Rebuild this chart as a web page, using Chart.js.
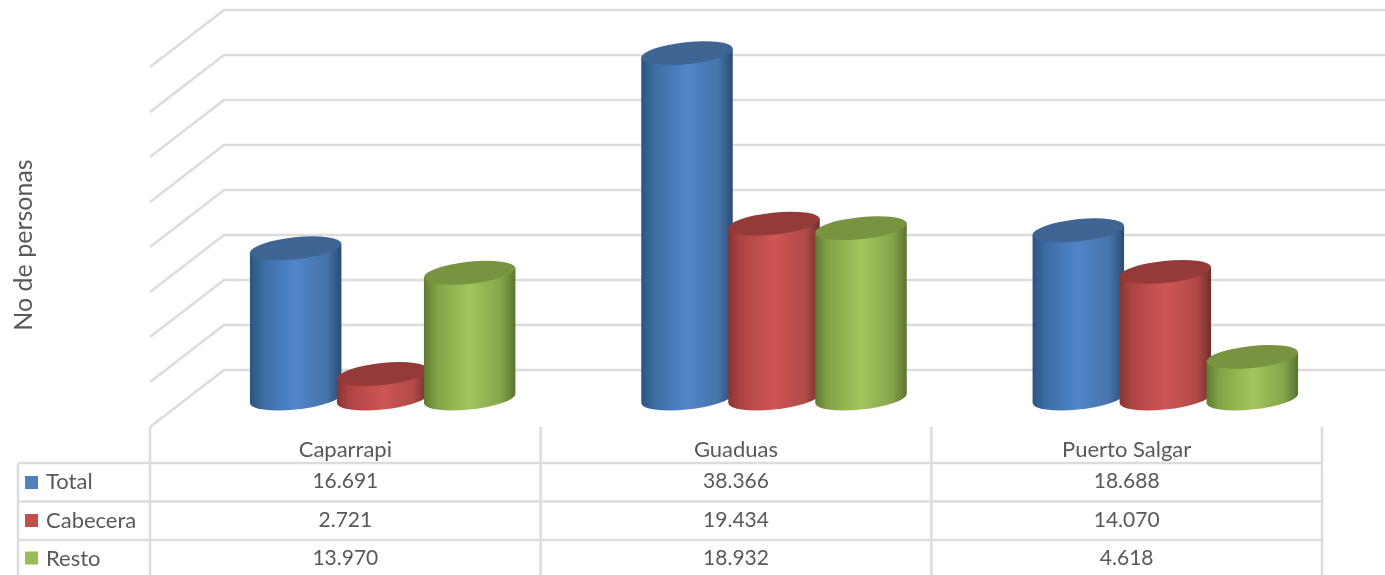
<!DOCTYPE html>
<html>
<head>
<meta charset="utf-8">
<title>No de personas</title>
<script src="https://cdn.jsdelivr.net/npm/chart.js@4"></script>
<style>
  html, body { margin: 0; padding: 0; background: #ffffff; overflow: hidden; }
  canvas { display: block; }
</style>
</head>
<body>
<canvas id="chart" width="1385" height="575"></canvas>
<script>
const municipios = ["Caparrapi", "Guaduas", "Puerto Salgar"];
const total = [16691, 38366, 18688];
const cabecera = [2721, 19434, 14070];
const resto = [13970, 18932, 4618];
const seriesNames = ["Total", "Cabecera", "Resto"];
const seriesValues = [total, cabecera, resto];
const axisTitle = "No de personas";

const swatchColors = ["#4f81bd", "#c0504d", "#9bbb59"];
const topColors = ["#3e6593", "#943a38", "#789440"];
const sideStops = [
  ["#2c5480", "#3d6ca3", "#5086c9", "#4673a9", "#2b4c73"],
  ["#873634", "#ad4543", "#ce5653", "#b04a48", "#722e2c"],
  ["#5f7b32", "#83a246", "#a3c55d", "#86a54a", "#5a7430"],
];

const gridColor = "#dcdcdc";
const textColor = "#595959";

// the 3D look: how far the back wall and the floor edge sit from the bar plane
const depthX = 37;
const backY = -28.5;
const frontY = 28.5;
const tilt = (-6 * Math.PI) / 180;
const capHeight = 11;
const tableRight = 1322;

function formatNumber(value) {
  return String(value).replace(/\B(?=(\d{3})+$)/g, ".");
}

function line(ctx, x1, y1, x2, y2) {
  ctx.beginPath();
  ctx.moveTo(x1, y1);
  ctx.lineTo(x2, y2);
  ctx.stroke();
}

function drawCylinder(ctx, bar, index) {
  const a = bar.width / 2;
  const t0 = Math.atan((-capHeight / a) * Math.tan(tilt));
  const xr = a * Math.cos(t0) * Math.cos(tilt) - capHeight * Math.sin(t0) * Math.sin(tilt);
  const yr = a * Math.cos(t0) * Math.sin(tilt) + capHeight * Math.sin(t0) * Math.cos(tilt);

  const gradient = ctx.createLinearGradient(bar.x - xr, 0, bar.x + xr, 0);
  [0, 0.14, 0.5, 0.84, 1].forEach((stop, i) => gradient.addColorStop(stop, sideStops[index][i]));

  ctx.beginPath();
  ctx.moveTo(bar.x - xr, bar.y - yr);
  ctx.lineTo(bar.x - xr, bar.base - yr);
  ctx.ellipse(bar.x, bar.base, a, capHeight, tilt, t0 + Math.PI, t0, true);
  ctx.lineTo(bar.x + xr, bar.y + yr);
  ctx.closePath();
  ctx.fillStyle = gradient;
  ctx.fill();

  ctx.beginPath();
  ctx.ellipse(bar.x, bar.y, a, capHeight, tilt, 0, Math.PI * 2);
  ctx.fillStyle = topColors[index];
  ctx.fill();
}

const scene3d = {
  id: "scene3d",
  beforeDatasetsDraw(chart) {
    const ctx = chart.ctx;
    const y = chart.scales.y;
    const x = chart.scales.x;
    ctx.save();
    ctx.strokeStyle = gridColor;
    ctx.lineWidth = 2.5;
    y.ticks.forEach((tick) => {
      const py = y.getPixelForValue(tick.value);
      ctx.beginPath();
      ctx.moveTo(x.left - depthX, py + frontY);
      ctx.lineTo(x.left + depthX, py + backY);
      ctx.lineTo(chart.width, py + backY);
      ctx.stroke();
    });
    ctx.restore();
  },
  beforeDatasetDraw() {
    return false; // default flat bars are replaced by the cylinders below
  },
  afterDatasetsDraw(chart) {
    const ctx = chart.ctx;
    ctx.save();
    municipios.forEach((name, col) => {
      seriesNames.forEach((serie, index) => {
        drawCylinder(ctx, chart.getDatasetMeta(index).data[col], index);
      });
    });
    ctx.restore();
  },
  afterDraw(chart) {
    const ctx = chart.ctx;
    const left = chart.scales.x.left - depthX;
    const colWidth = (tableRight - left) / municipios.length;
    const rowLines = [463, 501.5, 540];
    const rowText = [481.5, 520.5, 558.5];
    const swatchY = [476, 514, 551.5];
    const tableTop = 427;

    ctx.save();
    ctx.strokeStyle = gridColor;
    ctx.lineWidth = 2.5;
    for (let i = 0; i <= municipios.length; i++) {
      line(ctx, left + i * colWidth, tableTop, left + i * colWidth, chart.height);
    }
    rowLines.forEach((py) => line(ctx, 18, py, tableRight, py));
    line(ctx, 18, rowLines[0], 18, chart.height);

    ctx.fillStyle = textColor;
    ctx.textBaseline = "middle";
    ctx.textAlign = "center";
    municipios.forEach((name, col) => {
      const cx = left + (col + 0.5) * colWidth;
      ctx.font = "22px Lato";
      ctx.fillText(name, cx, 449.5);
      ctx.font = "21px Lato";
      seriesValues.forEach((values, row) => {
        ctx.fillText(formatNumber(values[col]), cx, rowText[row]);
      });
    });

    ctx.textAlign = "left";
    ctx.font = "22px Lato";
    seriesNames.forEach((name, row) => {
      ctx.fillStyle = swatchColors[row];
      ctx.fillRect(25, swatchY[row], 13, 13);
      ctx.fillStyle = textColor;
      ctx.fillText(name, 46, rowText[row]);
    });

    ctx.translate(24, 245);
    ctx.rotate(-Math.PI / 2);
    ctx.textAlign = "center";
    ctx.font = "25px Lato";
    ctx.fillText(axisTitle, 0, 0);
    ctx.restore();
  },
};

new Chart(document.getElementById("chart").getContext("2d"), {
  type: "bar",
  data: {
    labels: municipios,
    datasets: seriesNames.map((name, i) => ({
      label: name,
      data: seriesValues[i],
      backgroundColor: swatchColors[i],
    })),
  },
  options: {
    responsive: false,
    animation: false,
    categoryPercentage: 0.667,
    barPercentage: 1.057,
    layout: { padding: { left: 187, right: 24, top: 38.5, bottom: 176.5 } },
    plugins: {
      legend: { display: false },
      tooltip: { enabled: false },
    },
    scales: {
      x: { display: false },
      y: { display: false, min: 0, max: 40000, ticks: { stepSize: 5000 } },
    },
  },
  plugins: [scene3d],
});
</script>
</body>
</html>
